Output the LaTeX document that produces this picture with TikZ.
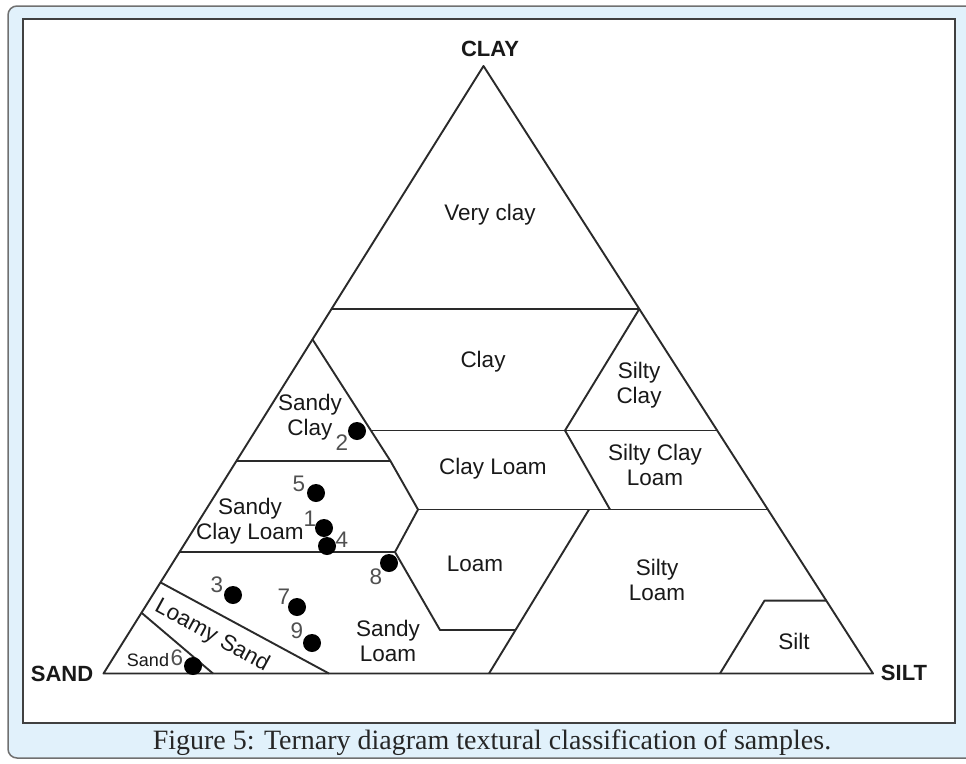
\documentclass[tikz,border=0pt]{standalone}
\usepackage{fontspec}
\setmainfont{Liberation Sans}
\newfontfamily\capfont{Liberation Serif}
\definecolor{bgblue}{HTML}{E1F1FB}
\definecolor{framec}{HTML}{707070}
\definecolor{innerc}{HTML}{404040}
\definecolor{linec}{HTML}{2A2A2A}
\definecolor{numc}{HTML}{505050}
\begin{document}
\begin{tikzpicture}[x=1pt,y=-1pt,
  zone/.style={draw=linec, line width=1.9pt, line join=round},
  lab/.style={font=\fontsize{22.5}{25.5}\selectfont, align=center, text=black!90, inner sep=0pt},
  num/.style={font=\fontsize{22.5}{25}\selectfont, text=numc, inner sep=0pt},
  sdot/.style={circle, fill=black, minimum size=18pt, inner sep=0pt},
  corner/.style={font=\bfseries\fontsize{22}{25}\selectfont, text=black!90, inner sep=0pt}]
\useasboundingbox (0,0) rectangle (966,763);
% frames
\path[fill=bgblue, draw=framec, line width=1.5pt, rounded corners=9pt] (8,6) rectangle (990,758);
\draw[fill=white, draw=innerc, line width=2pt] (23,19) rectangle (955,723);
% vertices
\coordinate (S) at (103.5,673.5);
\coordinate (T) at (873,673.5);
\coordinate (C) at (483.5,66);
% outline
\draw[zone] (S) -- (C) -- (T) -- cycle;
% clay 60
\draw[zone] (331.5,309) -- (639.3,309);
% clay 40
\draw[zone] (370,430.5) -- (717.2,430.5);
% sandy clay / sandy clay loam / loam boundary
\draw[zone] (312.5,339.4) -- (390.4,460.9) -- (418,509.5) -- (395,552) -- (440,630) -- (515,630);
% clay 35
\draw[zone] (236.5,460.9) -- (390.4,460.9);
% clay 27
\draw[zone] (418,509.5) -- (767.8,509.5);
% clay 20
\draw[zone] (179.5,552) -- (395,552);
% silty clay / silty clay loam left
\draw[zone] (639.3,309) -- (565,430.5) -- (610,509.5);
% silt loam left
\draw[zone] (589,509.5) -- (489,673.5);
% silt
\draw[zone] (720,673.5) -- (764.5,600.6) -- (826.3,600.6);
% sand and loamy sand
\draw[zone] (141.5,612.75) -- (213,673.5);
\draw[zone] (160.5,582.4) -- (329,673.5);
% corner labels
\node[corner] (clayv) at (490,49) {CLAY};
\node[corner] (sandv) at (62,674) {SAND};
\node[corner] (siltv) at (904,673) {SILT};
% region labels
\node[lab] (rvc) at (490,215) {Very clay};
\node[lab] (rc) at (483,362) {Clay};
\node[lab] (rsc) at (639,385) {Silty\\Clay};
\node[lab] (rsac) at (310,417) {Sandy\\Clay};
\node[lab] (rcl) at (493,469) {Clay Loam};
\node[lab] (rscl) at (655,465) {Silty Clay\\Loam};
\node[lab] (rsacl) at (250,521) {Sandy\\Clay Loam};
\node[lab] (rl) at (475,564) {Loam};
\node[lab] (rsl) at (657,580) {Silty\\Loam};
\node[lab] (rsal) at (388,641) {Sandy\\Loam};
\node[lab] (rsilt) at (794,641) {Silt};
\node[lab, font=\fontsize{18}{20}\selectfont] (rsand) at (148,660) {Sand};
\node[lab, rotate=-28.5] (rls) at (212,636) {Loamy Sand};
% samples
\node[sdot] (p2) at (357,431) {};
\node[num] (n2) at (342,443) {2};
\node[sdot] (p5) at (316,493) {};
\node[num] (n5) at (299,484) {5};
\node[sdot] (p1) at (324,528) {};
\node[num] (n1) at (310,519) {1};
\node[sdot] (p4) at (327,546) {};
\node[num] (n4) at (342,540) {4};
\node[sdot] (p8) at (389,563) {};
\node[num] (n8) at (376,577) {8};
\node[sdot] (p3) at (233,595) {};
\node[num] (n3) at (217,585) {3};
\node[sdot] (p7) at (297,607) {};
\node[num] (n7) at (284,597) {7};
\node[sdot] (p9) at (312,643) {};
\node[num] (n9) at (297,631) {9};
\node[sdot] (p6) at (193,666) {};
\node[num] (n6) at (177,658) {6};
% caption
\node[font=\capfont\fontsize{28}{30}\selectfont, text=black!85, anchor=base, inner sep=0pt] (cap) at (492,749) {Figure 5: Ternary diagram textural classification of samples.};
\end{tikzpicture}
\end{document}
